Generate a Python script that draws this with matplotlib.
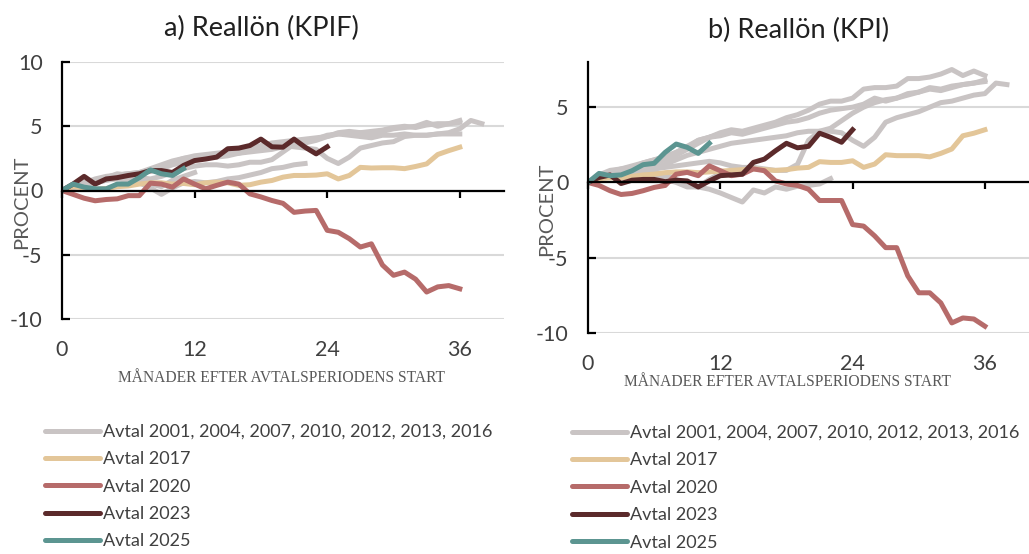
import numpy as np
import matplotlib
matplotlib.use('Agg')
import matplotlib.pyplot as plt

# ---- data: real wage development (percent) per month after agreement start ----
# a) KPIF
kpif_grey_1 = [0, 0.4, 0.6, 0.8, 1.0, 1.2, 1.3, 1.4, 1.7, 2.0, 2.3, 2.5, 2.7, 2.8, 2.9, 3.0, 3.1, 3.3, 3.5,
               3.7, 3.8, 3.9, 4.0, 4.1, 4.2, 4.5, 4.6, 4.5, 4.4, 4.6, 4.8, 4.9, 5.0, 5.3, 5.0, 5.2, 5.45]
kpif_grey_2 = [0, 0.3, 0.5, 0.6, 0.8, 1.0, 1.1, 1.3, 1.5, 1.7, 2.0, 2.2, 2.4, 2.6, 2.6, 2.7, 2.9, 3.0, 3.1,
               3.2, 3.4, 3.6, 3.7, 3.9, 4.2, 4.4, 4.3, 4.2, 4.1, 4.3, 4.3, 4.4, 4.3, 4.3, 4.4, 4.4, 4.4]
kpif_grey_3 = [0, 0.3, 0.5, 0.7, 0.9, 1.1, 1.2, 1.0, 0.9, 1.1, 1.4, 1.7, 1.9, 2.0, 2.0, 1.9, 2.0, 2.2, 2.2,
               2.4, 3.0, 3.6, 3.8, 4.0, 4.3, 4.4, 4.5, 4.5, 4.6, 4.7, 4.9, 5.0, 4.9, 5.1, 5.2, 5.2, 5.3]
kpif_grey_4 = [0, 0.3, 0.6, 0.8, 1.0, 1.2, 1.3, 1.4, 1.6, 1.9, 2.1, 2.3, 2.5, 2.6, 2.7, 2.9, 2.9, 3.1, 3.2,
               3.4, 3.5, 3.4, 3.3, 3.2, 2.5, 2.1, 2.6, 3.3, 3.5, 3.7, 3.8, 4.2, 4.3, 4.3, 4.4, 4.5, 4.8,
               5.45, 5.2]
kpif_grey_5 = [0, 0.3, 0.5, 0.6, 0.8, 0.9, 0.8, 0.6, 0.2, -0.3, 0.2, 0.6, 0.7, 0.6, 0.7, 0.9, 1.0, 1.2,
               1.4, 1.7, 1.8, 2.0, 2.1]
kpif_grey_6 = [0, 0.3, 0.6, 0.9, 1.1, 1.2, 1.3, 1.3, 1.5, 1.8, 2.2, 2.5, 2.6]
kpif_grey_7 = [0, 0.2, 0.4, 0.7, 1.0, 1.3, 1.2, 0.8, 0.5, 0.3, 0.8, 1.1, 1.4]
kpif_2017 = [0, 0.3, 0.2, 0.1, 0.15, 0.3, 0.35, 0.5, 0.6, 0.6, 0.5, 0.55, 0.45, 0.6, 0.65, 0.6, 0.4, 0.45,
             0.65, 0.78, 1.04, 1.17, 1.17, 1.2, 1.3, 0.9, 1.17, 1.8, 1.75, 1.77, 1.77, 1.7, 1.87, 2.07,
             2.8, 3.1, 3.37]
kpif_2020 = [0, -0.3, -0.6, -0.8, -0.7, -0.65, -0.4, -0.4, 0.57, 0.5, 0.26, 0.9, 0.5, 0.13, 0.4, 0.65,
             0.5, -0.26, -0.5, -0.78, -1.0, -1.7, -1.6, -1.55, -3.1, -3.25, -3.75, -4.4, -4.15, -5.8,
             -6.6, -6.35, -6.9, -7.9, -7.5, -7.4, -7.65]
kpif_2023 = [0, 0.5, 1.1, 0.5, 0.9, 1.0, 1.17, 1.3, 1.55, 1.55, 1.4, 1.95, 2.33, 2.45, 2.6, 3.25, 3.3,
             3.5, 4.0, 3.4, 3.37, 4.0, 3.37, 2.85, 3.4]
kpif_2025 = [0, 0.5, 0.26, 0.13, 0.13, 0.5, 0.5, 1.0, 1.6, 1.3, 1.17, 1.7]

# b) KPI
kpi_grey_1 = [0, 0.5, 0.8, 0.9, 1.0, 1.3, 1.5, 1.7, 2.0, 2.3, 2.8, 3.0, 3.3, 3.5, 3.4, 3.6, 3.8, 4.0, 4.3,
              4.5, 4.8, 5.2, 5.4, 5.4, 5.6, 6.2, 6.3, 6.3, 6.4, 6.9, 6.9, 7.0, 7.2, 7.5, 7.1, 7.4, 7.1]
kpi_grey_2 = [0, 0.4, 0.7, 0.8, 1.0, 1.2, 1.3, 1.5, 1.8, 2.2, 2.6, 3.0, 3.1, 3.3, 3.2, 3.4, 3.6, 3.8, 4.0,
              4.1, 4.3, 4.6, 4.8, 4.9, 5.0, 5.2, 5.6, 5.4, 5.6, 5.9, 6.0, 6.3, 6.2, 6.4, 6.5, 6.6, 6.8]
kpi_grey_3 = [0, 0.3, 0.5, 0.6, 0.7, 0.8, 0.9, 1.0, 1.1, 1.2, 1.3, 1.4, 1.3, 1.1, 1.0, 1.0, 0.9, 0.8, 0.8,
              1.2, 2.8, 3.4, 3.6, 4.1, 4.6, 5.0, 5.3, 5.5, 5.6, 5.8, 6.0, 6.2, 6.1, 6.3, 6.5, 6.6, 6.7]
kpi_grey_4 = [0, 0.4, 0.6, 0.8, 0.9, 1.0, 1.0, 1.2, 1.5, 1.8, 2.0, 2.2, 2.4, 2.6, 2.7, 2.8, 2.9, 3.0, 3.1,
              3.3, 3.4, 3.4, 3.4, 3.3, 2.8, 2.4, 3.0, 4.0, 4.3, 4.5, 4.7, 5.0, 5.3, 5.4, 5.6, 5.8, 5.9,
              6.6, 6.5]
kpi_grey_5 = [0, 0.3, 0.5, 0.6, 0.8, 0.8, 0.7, 0.5, 0.2, -0.2, -0.3, -0.45, -0.7, -1.0, -1.3, -0.5, -0.7,
              -0.3, -0.45, -0.25, -0.2, -0.1, 0.25]
kpi_grey_6 = [0, 0.4, 0.7, 0.9, 1.1, 1.3, 1.5, 1.7, 2.0, 2.4, 2.8, 3.0, 3.2]
kpi_grey_7 = [0, 0.3, 0.5, 0.6, 0.6, 0.5, 0.4, 0.2, 0.0, -0.3, -0.3, 0.2, 0.6]
kpi_2017 = [0, 0.25, 0.3, 0.3, 0.4, 0.5, 0.55, 0.65, 0.7, 0.7, 0.65, 0.7, 0.75, 0.8, 0.85, 0.9, 0.85, 0.8,
            0.85, 0.95, 1.0, 1.38, 1.33, 1.33, 1.44, 1.0, 1.22, 1.84, 1.78, 1.78, 1.78, 1.7, 1.93, 2.22,
            3.1, 3.27, 3.5]
kpi_2020 = [0, -0.2, -0.55, -0.8, -0.73, -0.55, -0.33, -0.2, 0.55, 0.67, 0.45, 1.1, 0.78, 0.45, 0.55,
            0.9, 0.78, 0.1, -0.1, -0.2, -0.45, -1.2, -1.2, -1.2, -2.8, -2.9, -3.55, -4.33, -4.33, -6.2,
            -7.33, -7.33, -8.0, -9.33, -9.0, -9.07, -9.55]
kpi_2023 = [0, 0.33, 0.5, -0.07, 0.15, 0.2, 0.2, 0.05, 0.15, 0.1, -0.3, 0.1, 0.45, 0.5, 0.55, 1.33, 1.55,
            2.1, 2.6, 2.3, 2.4, 3.27, 3.0, 2.67, 3.5]
kpi_2025 = [0, 0.6, 0.45, 0.5, 0.78, 1.18, 1.27, 2.0, 2.55, 2.33, 1.93, 2.6]

labels = ['Avtal 2001, 2004, 2007, 2010, 2012, 2013, 2016', 'Avtal 2017', 'Avtal 2020',
          'Avtal 2023', 'Avtal 2025']
colors = ['#C9C4C4', '#E3C699', '#B66B6A', '#5B2A2B', '#5C9591']

plt.rcParams['font.family'] = ['Lato', 'DejaVu Sans']
text_col = '#404040'

fig = plt.figure(figsize=(10.29, 5.54), dpi=100)
ax1 = fig.add_axes([62 / 1029, (554 - 319) / 554, 442 / 1029, 257 / 554])
ax2 = fig.add_axes([588 / 1029, (554 - 333) / 554, 441 / 1029, 271 / 554])


def draw(ax, greys, s2017, s2020, s2023, s2025, ylim, yticks):
    lw = 3.6
    for g in greys:
        ax.plot(np.arange(len(g)), g, color=colors[0], lw=lw, solid_joinstyle='round')
    for s, c in zip([s2017, s2020, s2023, s2025], colors[1:]):
        ax.plot(np.arange(len(s)), s, color=c, lw=lw, solid_joinstyle='round')
    ax.set_xlim(0, 40)
    ax.set_ylim(*ylim)
    ax.set_yticks(yticks)
    ax.set_yticklabels([str(t) for t in yticks])
    ax.yaxis.grid(True, color='#D9D9D9', lw=1.5)
    ax.set_axisbelow(True)
    for s in ['top', 'right']:
        ax.spines[s].set_visible(False)
    ax.spines['left'].set_linewidth(1.6)
    ax.spines['bottom'].set_position(('data', 0))
    ax.spines['bottom'].set_linewidth(1.6)
    ax.set_xticks([0, 12, 24, 36])
    ax.tick_params(axis='x', direction='out', length=5, width=1.6, labelbottom=False)
    ax.tick_params(axis='y', direction='in', length=6, width=1.6, pad=14,
                   labelsize=15.5, labelcolor=text_col)
    sec = ax.secondary_xaxis('bottom')
    sec.set_xticks([0, 12, 24, 36])
    sec.spines['bottom'].set_visible(False)
    sec.tick_params(length=0, pad=15, labelsize=15.5, labelcolor=text_col)


draw(ax1, [kpif_grey_1, kpif_grey_2, kpif_grey_3, kpif_grey_4, kpif_grey_5, kpif_grey_6, kpif_grey_7],
     kpif_2017, kpif_2020, kpif_2023, kpif_2025, (-10, 10), [-10, -5, 0, 5, 10])
draw(ax2, [kpi_grey_1, kpi_grey_2, kpi_grey_3, kpi_grey_4, kpi_grey_5, kpi_grey_6, kpi_grey_7],
     kpi_2017, kpi_2020, kpi_2023, kpi_2025, (-10, 8), [-10, -5, 0, 5])

# titles and axis labels
fig.text(261 / 1029, 1 - 28 / 554, 'a) Reallön (KPIF)', ha='center', va='center', fontsize=19.5,
         color='#202020')
fig.text(799 / 1029, 1 - 30 / 554, 'b) Reallön (KPI)', ha='center', va='center', fontsize=19.5,
         color='#202020')
fig.text(21.5 / 1029, 1 - 202 / 554, 'PROCENT', rotation=90, ha='center', va='center', fontsize=14.5,
         color='#595959')
fig.text(546.5 / 1029, 1 - 209.5 / 554, 'PROCENT', rotation=90, ha='center', va='center', fontsize=14.5,
         color='#595959')
fig.text(281 / 1029, 1 - 378 / 554, 'MÅNADER EFTER AVTALSPERIODENS START', ha='center', va='center',
         fontsize=11.2, family='Liberation Serif', color='#595959')
fig.text(788 / 1029, 1 - 382 / 554, 'MÅNADER EFTER AVTALSPERIODENS START', ha='center', va='center',
         fontsize=11.2, family='Liberation Serif', color='#595959')

# legends
handles = [plt.Line2D([], [], color=c, lw=3.6, solid_capstyle='round') for c in colors]
for x0, y0 in [(45, 424), (572, 425)]:
    fig.legend(handles, labels, loc='upper left', bbox_to_anchor=(x0 / 1029, 1 - y0 / 554),
               frameon=False, fontsize=13.0, handlelength=3.05, handletextpad=0.15,
               labelspacing=0.63, borderpad=0, borderaxespad=0, labelcolor=text_col)

fig.savefig('out.png', dpi=100, facecolor='white')
